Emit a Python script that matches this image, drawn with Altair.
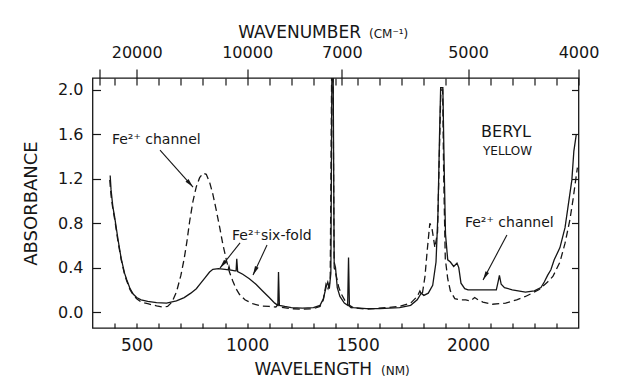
import math
import altair as alt
import pandas as pd

# ---------------- data ----------------
solid_nm = [380, 384, 392, 400, 415, 430, 445, 455, 470, 485, 500, 520, 550, 590, 635, 680, 715, 745,
            770, 790, 810, 830, 845, 870, 900, 914, 918, 922, 945, 950, 953, 957, 980, 1010, 1040, 1070,
            1100, 1125, 1139, 1142, 1146, 1170, 1200, 1250, 1300, 1330, 1345, 1358, 1365, 1372, 1379,
            1384, 1389, 1394, 1400, 1408, 1420, 1440, 1455, 1459, 1463, 1480, 1540, 1600, 1690, 1740,
            1770, 1788, 1800, 1820, 1840, 1855, 1864, 1871, 1876, 1886, 1892, 1898, 1908, 1920, 1935,
            1950, 1958, 1968, 1985, 2000, 2050, 2100, 2128, 2137, 2142, 2150, 2165, 2200, 2260, 2300,
            2330, 2345, 2360, 2375, 2390, 2416, 2439, 2452, 2470, 2479, 2490]
solid_abs = [1.23, 1.10, 0.95, 0.86, 0.66, 0.48, 0.35, 0.29, 0.21, 0.16, 0.13, 0.11, 0.095, 0.085, 0.08,
             0.10, 0.13, 0.17, 0.21, 0.26, 0.31, 0.36, 0.385, 0.39, 0.385, 0.38, 0.41, 0.38, 0.37, 0.37,
             0.48, 0.365, 0.34, 0.30, 0.25, 0.19, 0.13, 0.08, 0.06, 0.36, 0.06, 0.05, 0.04, 0.035, 0.04,
             0.06, 0.12, 0.23, 0.27, 0.21, 0.35, 2.3, 2.3, 0.45, 0.40, 0.22, 0.14, 0.08, 0.06, 0.49,
             0.06, 0.04, 0.03, 0.03, 0.04, 0.06, 0.11, 0.17, 0.15, 0.17, 0.24, 0.45, 0.9, 1.6, 2.02,
             2.02, 1.3, 0.7, 0.47, 0.45, 0.41, 0.44, 0.40, 0.26, 0.21, 0.20, 0.20, 0.20, 0.20, 0.28,
             0.33, 0.25, 0.22, 0.20, 0.18, 0.19, 0.22, 0.27, 0.33, 0.38, 0.47, 0.58, 0.76, 0.94, 1.19,
             1.45, 1.6]

dashed_nm = [378, 384, 392, 400, 415, 430, 445, 455, 470, 485, 500, 520, 550, 590, 614, 640, 660, 680,
             700, 715, 727, 740, 755, 770, 785, 800, 815, 830, 845, 860, 876, 890, 907, 920, 935, 950,
             965, 990, 1025, 1060, 1100, 1130, 1141, 1148, 1200, 1250, 1300, 1330, 1345, 1357, 1366,
             1376, 1383, 1388, 1394, 1404, 1415, 1427, 1449, 1470, 1540, 1690, 1740, 1770, 1782, 1792,
             1805, 1815, 1827, 1837, 1850, 1862, 1871, 1877, 1885, 1890, 1897, 1908, 1920, 1940, 1965,
             1990, 2010, 2030, 2045, 2067, 2110, 2170, 2220, 2260, 2320, 2360, 2384, 2416, 2439, 2461,
             2475, 2488, 2495]
dashed_abs = [1.19, 1.05, 0.93, 0.84, 0.64, 0.47, 0.34, 0.28, 0.20, 0.15, 0.12, 0.09, 0.075, 0.055,
              0.045, 0.05, 0.09, 0.18, 0.33, 0.48, 0.63, 0.82, 1.0, 1.13, 1.21, 1.25, 1.24, 1.17, 1.06,
              0.92, 0.76, 0.61, 0.46, 0.36, 0.28, 0.21, 0.16, 0.11, 0.075, 0.055, 0.05, 0.045, 0.07,
              0.045, 0.03, 0.025, 0.03, 0.05, 0.11, 0.25, 0.21, 0.28, 2.3, 2.3, 0.40, 0.32, 0.22, 0.16,
              0.08, 0.04, 0.025, 0.05, 0.08, 0.14, 0.19, 0.15, 0.32, 0.55, 0.80, 0.75, 0.58, 0.72, 1.5,
              2.0, 2.0, 1.2, 0.48, 0.30, 0.19, 0.12, 0.11, 0.11, 0.10, 0.13, 0.11, 0.09, 0.07, 0.08,
              0.11, 0.14, 0.20, 0.27, 0.32, 0.45, 0.62, 0.83, 1.01, 1.2, 1.3]

y_ticks = [0.0, 0.4, 0.8, 1.2, 1.6, 2.0]
bottom_ticks = list(range(400, 2500, 100))
bottom_labels = [500, 1000, 1500, 2000]
top_minor = list(range(400, 2500, 100))
top_wavenumbers = [30000, 20000, 10000, 7000, 5000, 4000]
top_wn_labels = ["", "20000", "10000", "7000", "5000", "4000"]

ann_text = ["Fe²⁺ channel", "Fe²⁺six-fold", "Fe²⁺ channel"]
ann_nm = [388, 931.5, 1986]
ann_abs = [1.513, 0.649, 0.766]

# arrows: tail (nm, abs) -> head (nm, abs)
arr_nm = [605.6, 968, 1090, 2176]
arr_abs = [1.459, 0.622, 0.603, 0.694]
arr_nm2 = [755, 877, 1026.6, 2068]
arr_abs2 = [1.126, 0.396, 0.333, 0.288]

# ---------------- layout ----------------
W, H = 486, 250
XMIN, XMAX = 300, 2500
YMIN, YMAX = -0.144, 2.108
PXNM = W / (XMAX - XMIN)
PPU = H / (YMAX - YMIN)
INK = "#161616"
FONT = "DejaVu Sans"

xs = alt.Scale(domain=[XMIN, XMAX], nice=False, zero=False)
ys = alt.Scale(domain=[YMIN, YMAX], nice=False, zero=False)

bottom_axis = alt.Axis(
    orient="bottom", values=bottom_ticks, tickSize=5, offset=-5, domain=False, grid=False,
    format="d", labelExpr="indexof(%s, datum.value) >= 0 ? datum.label : ''" % str(bottom_labels),
    labelFontSize=17, labelFont=FONT, labelColor=INK, labelPadding=9, title=None,
    tickColor=INK, tickWidth=1.2, labelFlush=False, labelOverlap=False)
left_axis = alt.Axis(
    orient="left", values=y_ticks, format=".1f", tickSize=8, offset=-8, domain=False, grid=False,
    labelFontSize=16, labelFont=FONT, labelColor=INK, labelPadding=9.5, title=None,
    tickColor=INK, tickWidth=1.2, labelFlush=False, labelOverlap=False)

X = alt.X("nm:Q", scale=xs, axis=bottom_axis)
Y = alt.Y("abs:Q", scale=ys, axis=left_axis)

df_solid = pd.DataFrame({"nm": solid_nm, "abs": solid_abs})
df_dashed = pd.DataFrame({"nm": dashed_nm, "abs": dashed_abs})

solid = alt.Chart(df_solid).mark_line(color=INK, strokeWidth=1.3, clip=True).encode(x=X, y=Y)
dashed = alt.Chart(df_dashed).mark_line(color=INK, strokeWidth=1.3, strokeDash=[7, 4],
                                        clip=True).encode(x=X, y=Y)

df_ann = pd.DataFrame({"nm": ann_nm, "abs": ann_abs, "t": ann_text})
ann = alt.Chart(df_ann).mark_text(align="left", baseline="alphabetic", font=FONT, fontSize=14,
                                  color=INK).encode(x=X, y=Y, text="t:N")

beryl = alt.Chart(pd.DataFrame({"nm": [2172], "abs": [1.576], "t": ["BERYL"]})).mark_text(
    align="center", baseline="alphabetic", font=FONT, fontSize=16, color=INK).encode(
    x=X, y=Y, text="t:N")
yellow = alt.Chart(pd.DataFrame({"nm": [2179], "abs": [1.414], "t": ["YELLOW"]})).mark_text(
    align="center", baseline="alphabetic", font=FONT, fontSize=12, color=INK).encode(
    x=X, y=Y, text="t:N")

# axis titles as text in data coordinates
big_titles = alt.Chart(pd.DataFrame({"nm": [1515.5, 1565], "abs": [2.468, -0.568],
                                     "t": ["WAVENUMBER", "WAVELENGTH"]})).mark_text(
    align="right", baseline="alphabetic", font=FONT, fontSize=17, color=INK, clip=False).encode(
    x=X, y=Y, text="t:N")
small_titles = alt.Chart(pd.DataFrame({"nm": [1551.7, 1606], "abs": [2.468, -0.568],
                                       "t": ["(CM⁻¹)", "(NM)"]})).mark_text(
    align="left", baseline="alphabetic", font=FONT, fontSize=12, color=INK, clip=False).encode(
    x=X, y=Y, text="t:N")
ytitle = alt.Chart(pd.DataFrame({"nm": [23.9], "abs": [0.977], "t": ["ABSORBANCE"]})).mark_text(
    align="center", baseline="middle", angle=270, font=FONT, fontSize=18, color=INK, clip=False).encode(
    x=X, y=Y, text="t:N")

# arrows
angles = []
for a, b, c, d in zip(arr_nm, arr_abs, arr_nm2, arr_abs2):
    dx = (c - a) * PXNM
    dy = -(d - b) * PPU
    angles.append(math.degrees(math.atan2(dx, -dy)) % 360)
df_arr = pd.DataFrame({"nm": arr_nm, "abs": arr_abs, "nm2": arr_nm2, "abs2": arr_abs2, "ang": angles})
shafts = alt.Chart(df_arr).mark_rule(color=INK, strokeWidth=1.1).encode(
    x=X, y=Y, x2="nm2:Q", y2="abs2:Q")
heads = alt.Chart(df_arr).mark_point(shape="M0,0L-1,4.5L1,4.5Z", filled=True, size=16, color=INK,
                                     opacity=1, strokeWidth=0).encode(
    x=alt.X("nm2:Q", scale=xs, axis=bottom_axis), y=alt.Y("abs2:Q", scale=ys, axis=left_axis),
    angle=alt.Angle("ang:Q", scale=None))

main = alt.layer(solid, dashed, ann, beryl, yellow, big_titles, small_titles, ytitle, shafts, heads)

# right axis (inward ticks only)
right = alt.Chart(pd.DataFrame({"v": y_ticks})).mark_point(opacity=0).encode(
    y=alt.Y("v:Q", scale=ys, axis=alt.Axis(orient="right", values=y_ticks, tickSize=7, offset=-7,
                                           domain=False, labels=False, title=None, grid=False,
                                           tickColor=INK, tickWidth=1.2)))

# top axis: wavenumber
majors = [1e7 / w for w in top_wavenumbers]
top_vals = sorted(set([float(v) for v in top_minor] + majors))
major_test = " || ".join("abs(datum.value - %.3f) < 0.5" % m for m in majors)
lab_expr = ""
for m, lab in zip(majors, top_wn_labels):
    lab_expr += "abs(datum.value - %.3f) < 0.5 ? '%s' : " % (m, lab)
lab_expr += "''"
top = alt.Chart(pd.DataFrame({"v": top_vals})).mark_point(opacity=0).encode(
    x=alt.X("v:Q", scale=xs, axis=alt.Axis(
        orient="top", values=top_vals, offset=-7, domain=False, grid=False,
        tickSize={"condition": {"test": major_test, "value": 16}, "value": 7},
        labelExpr=lab_expr, labelFontSize=16, labelFont=FONT, labelColor=INK, labelPadding=9,
        title=None, tickColor=INK, tickWidth=1.2, labelFlush=False, labelOverlap=False)))

chart = alt.layer(main, right, top).resolve_scale(x="independent", y="independent").properties(
    width=W, height=H,
    autosize=alt.AutoSizeParams(type="none"),
    padding={"left": 84.5, "top": 70, "right": 45, "bottom": 54},
    background="white",
).configure_view(stroke=INK, strokeWidth=1.3).configure_axis(labelOverlap=False)

chart.save("out.html", embed_options={"renderer": "svg", "actions": False})
